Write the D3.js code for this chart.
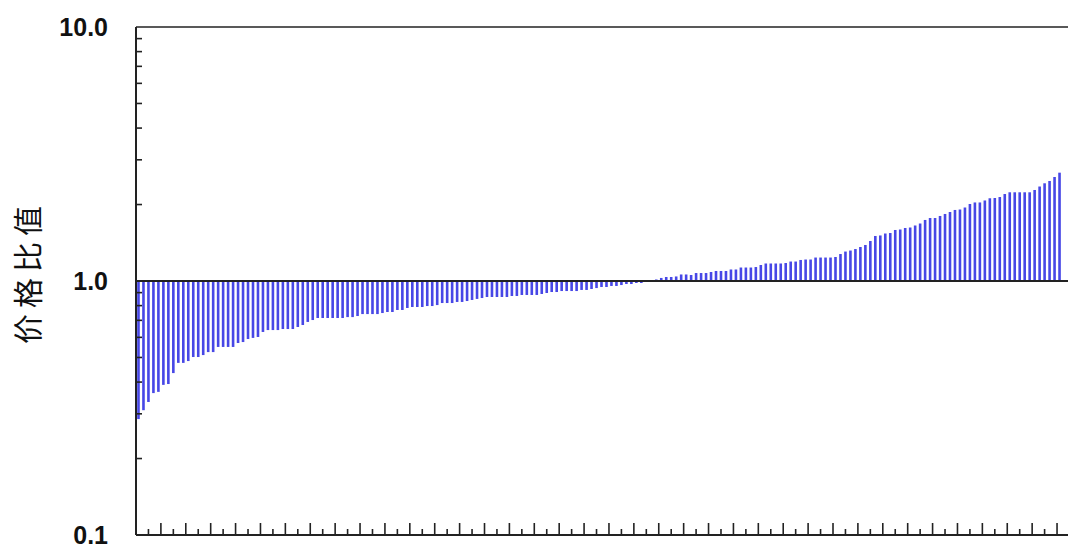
<!DOCTYPE html>
<html>
<head>
<meta charset="utf-8">
<script src="https://cdn.jsdelivr.net/npm/d3@7"></script>
<style>
  body { margin: 0; background: #fff; }
  svg { display: block; }
</style>
</head>
<body>
<script>
// price ratio for each item, sorted ascending
var ratios = [
  0.286, 0.310, 0.334, 0.362, 0.366, 0.390, 0.393, 0.434, 0.476, 0.476,
  0.484, 0.502, 0.502, 0.511, 0.525, 0.525, 0.550, 0.550, 0.550, 0.550,
  0.570, 0.575, 0.591, 0.597, 0.602, 0.630, 0.641, 0.641, 0.641, 0.647,
  0.647, 0.647, 0.659, 0.671, 0.690, 0.702, 0.715, 0.715, 0.715, 0.715,
  0.715, 0.715, 0.721, 0.721, 0.728, 0.741, 0.741, 0.741, 0.741, 0.748,
  0.755, 0.755, 0.769, 0.769, 0.783, 0.790, 0.790, 0.790, 0.797, 0.797,
  0.804, 0.819, 0.819, 0.819, 0.827, 0.827, 0.834, 0.842, 0.850, 0.857,
  0.865, 0.865, 0.865, 0.865, 0.865, 0.873, 0.873, 0.881, 0.881, 0.881,
  0.881, 0.889, 0.897, 0.905, 0.905, 0.913, 0.913, 0.913, 0.913, 0.922,
  0.922, 0.930, 0.938, 0.947, 0.947, 0.956, 0.956, 0.964, 0.973, 0.973,
  0.982, 0.982, 0.991, 0.995, 1.014, 1.028, 1.037, 1.037, 1.042, 1.061,
  1.061, 1.056, 1.075, 1.075, 1.075, 1.085, 1.095, 1.095, 1.095, 1.110,
  1.110, 1.130, 1.130, 1.130, 1.135, 1.156, 1.172, 1.172, 1.172, 1.172,
  1.177, 1.193, 1.193, 1.210, 1.215, 1.215, 1.237, 1.237, 1.237, 1.237,
  1.243, 1.277, 1.306, 1.318, 1.336, 1.361, 1.386, 1.437, 1.504, 1.511,
  1.538, 1.545, 1.588, 1.595, 1.617, 1.624, 1.654, 1.684, 1.739, 1.770,
  1.770, 1.803, 1.836, 1.869, 1.904, 1.912, 1.947, 2.010, 2.038, 2.038,
  2.075, 2.117, 2.122, 2.141, 2.200, 2.235, 2.235, 2.235, 2.235, 2.235,
  2.282, 2.355, 2.425, 2.476, 2.567, 2.670
];
var yTickValues = [0.1, 1, 10];
var yTickLabels = ["0.1", "1.0", "10.0"];
var yLabel = "价格比值";

var W = 1068, H = 545;
var plotLeft = 136, plotTop = 27, plotBottom = 535, plotRight = 1067;

var svg = d3.select("body").append("svg")
    .attr("width", W)
    .attr("height", H);

// x: one unit per item, ticks every 2.5 units
var xMax = 187;
var xScale = d3.scaleLinear().domain([0, xMax]).range([plotLeft, plotRight]);
var yScale = d3.scaleLog().domain([0.1, 10]).range([plotBottom, plotTop]);

// bars from 1.0 up or down
svg.append("g")
    .selectAll("rect")
    .data(ratios)
    .enter().append("rect")
    .attr("x", function(d, i) { return xScale(i + 0.5) - 1.3; })
    .attr("width", 2.6)
    .attr("y", function(d) { return Math.min(yScale(d), yScale(1)); })
    .attr("height", function(d) { return Math.abs(yScale(d) - yScale(1)); })
    .style("fill", "#4747e6");

// minor y ticks (inside, pointing right)
var minorY = [];
[0.1, 1].forEach(function(dec) {
    for (var k = 2; k <= 9; k++) minorY.push(dec * k);
});
svg.append("g")
    .selectAll("line")
    .data(minorY)
    .enter().append("line")
    .attr("x1", plotLeft)
    .attr("x2", plotLeft + 6)
    .attr("y1", function(d) { return yScale(d); })
    .attr("y2", function(d) { return yScale(d); })
    .style("stroke", "#222")
    .style("stroke-width", 1.6);

// x ticks (inside, pointing up), major every 5 units
var xTicks = d3.range(2.5, xMax, 2.5);
svg.append("g")
    .selectAll("line")
    .data(xTicks)
    .enter().append("line")
    .attr("x1", function(d) { return xScale(d); })
    .attr("x2", function(d) { return xScale(d); })
    .attr("y1", plotBottom)
    .attr("y2", function(d) { return d % 5 === 0 ? plotBottom - 12 : plotBottom - 6; })
    .style("stroke", "#222")
    .style("stroke-width", 1.6);

// frame lines: left axis, top, bottom, and the 1.0 reference line
svg.append("line")
    .attr("x1", plotLeft).attr("x2", plotLeft)
    .attr("y1", yScale(10)).attr("y2", yScale(0.1))
    .style("stroke", "#222").style("stroke-width", 2);
svg.append("line")
    .attr("x1", plotLeft).attr("x2", W)
    .attr("y1", yScale(10)).attr("y2", yScale(10))
    .style("stroke", "#222").style("stroke-width", 1.6);
svg.append("line")
    .attr("x1", plotLeft).attr("x2", W)
    .attr("y1", yScale(0.1)).attr("y2", yScale(0.1))
    .style("stroke", "#222").style("stroke-width", 2);
svg.append("line")
    .attr("x1", plotLeft).attr("x2", W)
    .attr("y1", yScale(1)).attr("y2", yScale(1))
    .style("stroke", "#222").style("stroke-width", 1.8);

// y tick labels
svg.append("g")
    .selectAll("text")
    .data(yTickValues)
    .enter().append("text")
    .attr("x", 108)
    .attr("y", function(d) { return yScale(d); })
    .attr("dy", "0.36em")
    .style("text-anchor", "end")
    .style("font-family", "'Liberation Sans', Arial, sans-serif")
    .style("font-weight", "bold")
    .style("font-size", "25px")
    .style("fill", "#111")
    .text(function(d, i) { return yTickLabels[i]; });

// y axis title
svg.append("text")
    .attr("transform", "translate(28," + 272 + ") rotate(-90)")
    .attr("dy", "0.36em")
    .style("text-anchor", "middle")
    .style("font-family", "'Noto Sans CJK SC', sans-serif")
    .style("font-size", "30px")
    .style("letter-spacing", "6px")
    .style("fill", "#111")
    .text(yLabel);
</script>
</body>
</html>
